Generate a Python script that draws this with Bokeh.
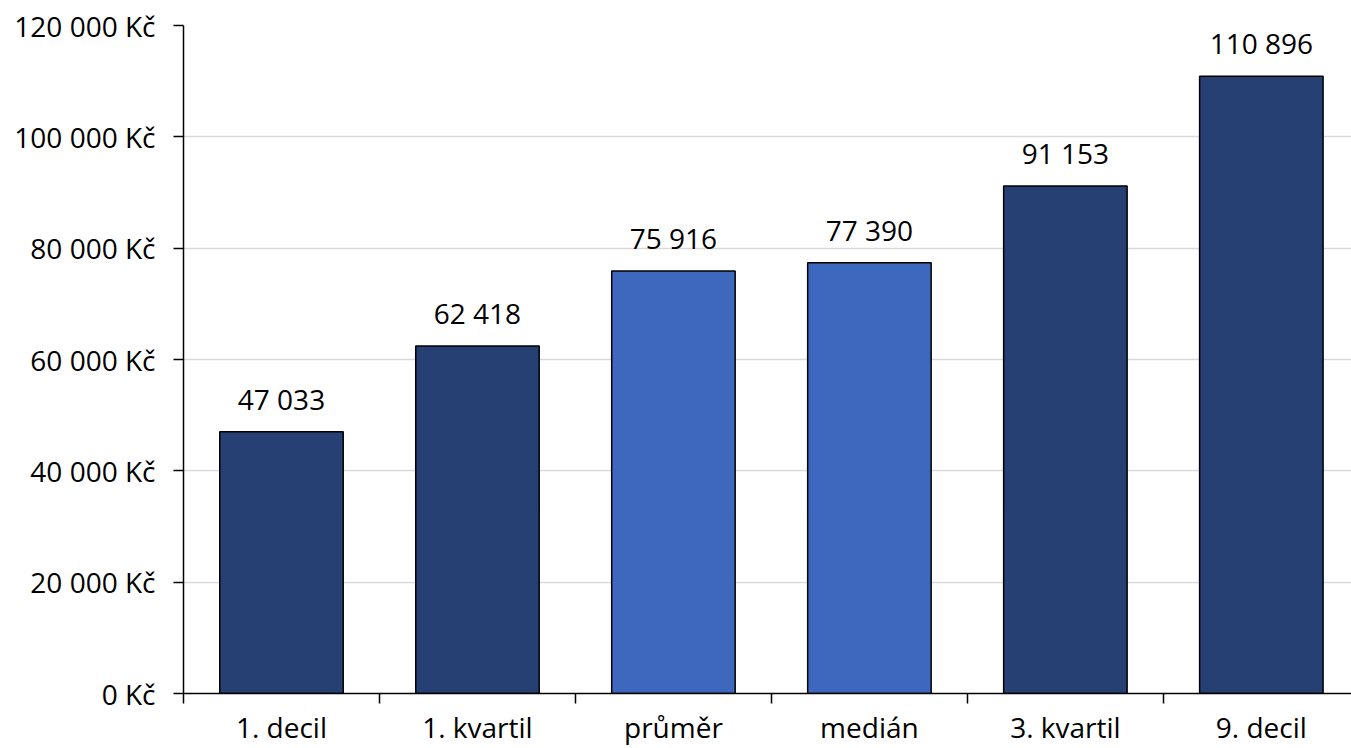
from bokeh.plotting import figure
from bokeh.models import Range1d, FixedTicker, ColumnDataSource, LabelSet
from bokeh.core.properties import value
from bokeh.embed import file_html
from bokeh.resources import INLINE

categories = ["1. decil", "1. kvartil", "průměr", "medián", "3. kvartil", "9. decil"]
values = [47033, 62418, 75916, 77390, 91153, 110896]
highlighted = ["průměr", "medián"]
y_ticks = [0, 20000, 40000, 60000, 80000, 100000, 120000]

DARK = "#264073"
LIGHT = "#3E68BD"
FONT = "Open Sans"
FS = "28px"

xs = [i + 0.5 for i in range(len(categories))]
colors = [LIGHT if c in highlighted else DARK for c in categories]
labels = [f"{v:,}".replace(",", " ") for v in values]

src = ColumnDataSource(dict(x=xs, top=values, color=colors, label=labels))

p = figure(width=1351, height=748, output_backend="svg", toolbar_location=None,
           x_range=Range1d(0, 5.96), y_range=Range1d(0, 120000))
p.min_border_left = 183
p.min_border_right = 0
p.min_border_top = 25
p.min_border_bottom = 40
p.outline_line_color = None
p.background_fill_color = "white"

p.vbar(x="x", top="top", bottom=0, width=0.63, source=src, fill_color="color",
       line_color="black", line_width=1.5)

p.add_layout(LabelSet(x="x", y="top", text="label", source=src, text_align="center",
                      text_baseline="bottom", y_offset=14, text_font=value(FONT),
                      text_font_size=FS, text_color="black"))

# x axis: labels at category centres, ticks between categories
xa = p.xaxis[0]
xa.ticker = FixedTicker(ticks=xs, minor_ticks=list(range(len(categories) + 1)))
xa.major_label_overrides = {x: c for x, c in zip(xs, categories)}
xa.major_tick_out = 0
xa.major_tick_in = 0
xa.minor_tick_out = 10
xa.minor_tick_in = 0
xa.minor_tick_line_color = "black"
xa.minor_tick_line_width = 1.5
xa.axis_line_color = "black"
xa.axis_line_width = 1.5
xa.major_label_standoff = 4
xa.major_label_text_font = FONT
xa.major_label_text_font_size = FS
xa.major_label_text_color = "black"

ya = p.yaxis[0]
ya.ticker = FixedTicker(ticks=y_ticks, minor_ticks=[])
ya.major_label_overrides = {t: f"{t:,} Kč".replace(",", " ") for t in y_ticks}
ya.major_tick_out = 10
ya.major_tick_in = 0
ya.major_tick_line_color = "black"
ya.major_tick_line_width = 1.5
ya.axis_line_color = "black"
ya.axis_line_width = 1.5
ya.major_label_standoff = 18
ya.major_label_text_font = FONT
ya.major_label_text_font_size = FS
ya.major_label_text_color = "black"

p.xgrid.grid_line_color = None
p.ygrid.ticker = FixedTicker(ticks=y_ticks)
p.ygrid.grid_line_color = "#D9D9D9"
p.ygrid.grid_line_width = 1.5

open("out.html", "w").write(file_html(p, INLINE))
